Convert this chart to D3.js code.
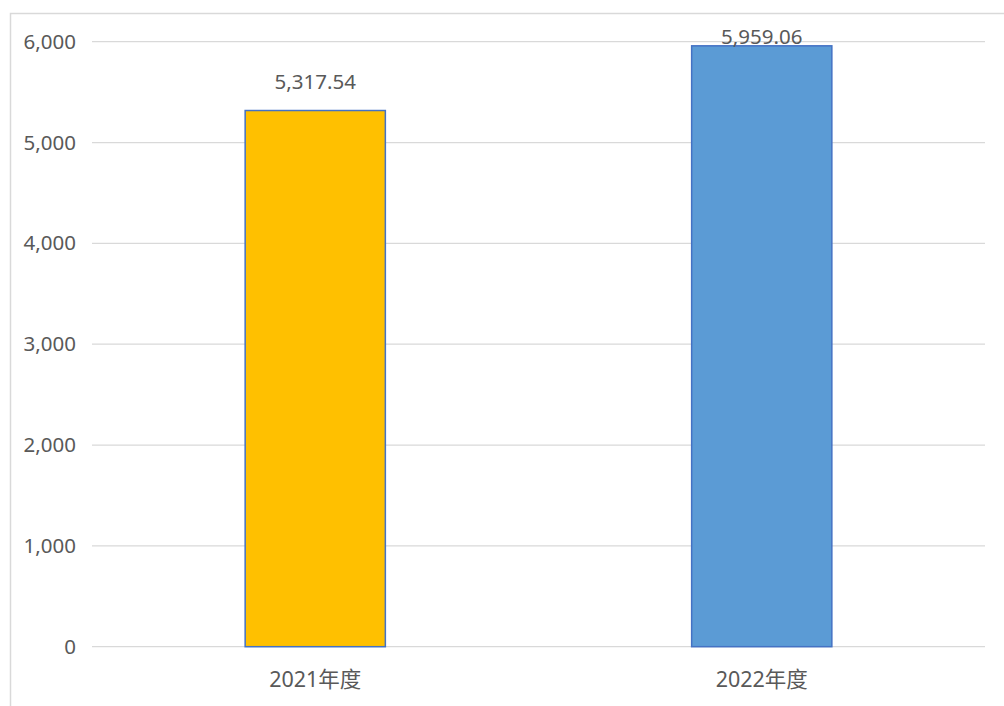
<!DOCTYPE html>
<html>
  <head>
    <meta charset="utf-8">
    <script src="https://cdn.jsdelivr.net/npm/d3@7"></script>
    <style>
      body { margin: 0; background: #fff; }
      text { font-family: "Noto Sans", "Noto Sans CJK SC", sans-serif; fill: #595959; }
    </style>
  </head>
  <body>
  <script>
    var categories = ["2021年度", "2022年度"];
    var values = [5317.54, 5959.06];
    var valueLabels = ["5,317.54", "5,959.06"];
    var tickValues = [0, 1000, 2000, 3000, 4000, 5000, 6000];
    var barColors = ["#FFC000", "#5B9BD5"];

    var W = 1004, H = 706;
    var plotLeft = 92, plotRight = 985, plotTop = 41.7, plotBottom = 646.7;

    var svg = d3.select("body").append("svg")
        .attr("width", W)
        .attr("height", H);

    // chart border (runs off right and bottom edge)
    svg.append("rect")
        .attr("x", 10.5).attr("y", 13.5)
        .attr("width", 1200).attr("height", 1200)
        .attr("fill", "none")
        .attr("stroke", "#d9d9d9")
        .attr("stroke-width", 1.5);

    var x = d3.scaleBand().domain(categories).range([plotLeft, plotRight]).padding(0);
    var y = d3.scaleLinear().domain([0, 6000]).range([plotBottom, plotTop]);

    // gridlines
    svg.append("g").selectAll("line")
        .data(tickValues)
        .enter().append("line")
        .attr("x1", plotLeft).attr("x2", plotRight)
        .attr("y1", function(d){ return y(d); })
        .attr("y2", function(d){ return y(d); })
        .attr("stroke", "#d9d9d9")
        .attr("stroke-width", 1.3);

    // y axis labels
    var yAxis = d3.axisLeft(y)
        .tickValues(tickValues)
        .tickSize(0)
        .tickPadding(0)
        .tickFormat(d3.format(","));
    var yg = svg.append("g")
        .attr("transform", "translate(76,0)")
        .call(yAxis);
    yg.select(".domain").remove();
    yg.selectAll("text")
        .attr("font-size", 20.5)
        .attr("fill", "#595959")
        .style("font-family", "'Noto Sans', sans-serif");

    // x axis labels
    var xAxis = d3.axisBottom(x).tickSize(0).tickPadding(0);
    var xg = svg.append("g")
        .attr("transform", "translate(0," + plotBottom + ")")
        .call(xAxis);
    xg.select(".domain").remove();
    xg.selectAll("text")
        .attr("dy", null)
        .attr("y", 40)
        .attr("font-size", 21.5)
        .attr("fill", "#595959")
        .style("font-family", "'Noto Sans', 'Noto Sans CJK SC', sans-serif");

    var barW = x.bandwidth() * 0.314;

    svg.append("g").selectAll("rect")
        .data(values)
        .enter().append("rect")
        .attr("x", function(d, i){ return x(categories[i]) + x.bandwidth() / 2 - barW / 2; })
        .attr("y", function(d){ return y(d); })
        .attr("width", barW)
        .attr("height", function(d){ return plotBottom - y(d); })
        .attr("fill", function(d, i){ return barColors[i]; })
        .attr("stroke", "#4472C4")
        .attr("stroke-width", 1.5);

    // data labels, kept inside the plot area
    svg.append("g").selectAll("text")
        .data(values)
        .enter().append("text")
        .attr("x", function(d, i){ return x(categories[i]) + x.bandwidth() / 2; })
        .attr("y", function(d){ return Math.max(y(d) - 22, 44); })
        .attr("text-anchor", "middle")
        .attr("font-size", 20.5)
        .attr("fill", "#404040")
        .text(function(d, i){ return valueLabels[i]; });
  </script>
  </body>
</html>
